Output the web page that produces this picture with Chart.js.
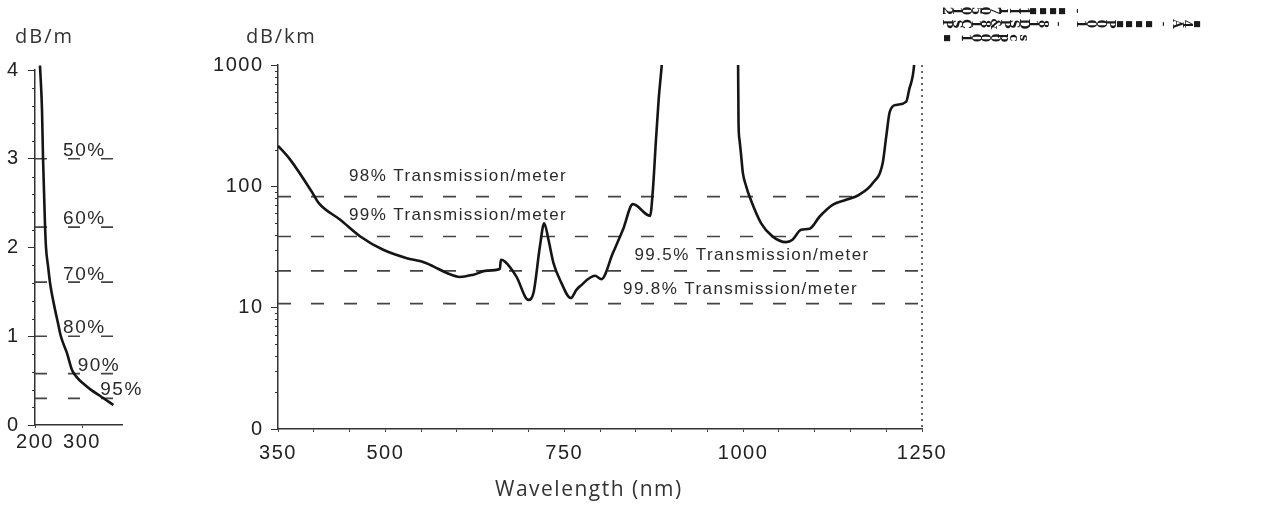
<!DOCTYPE html>
<html>
<head>
<meta charset="utf-8">
<script src="https://cdn.jsdelivr.net/npm/chart.js@4.4.1/dist/chart.umd.min.js"></script>
<style>
  html, body { margin: 0; padding: 0; background: #fff; }
  body { width: 1275px; height: 507px; position: relative; overflow: hidden; }
  canvas { position: absolute; top: 0; }
  #uvChart { left: 0; }
  #irChart { left: 160px; }
  .unit { position: absolute; font-family: "Open Sans", sans-serif; color: #333; line-height: 1; white-space: nowrap; }
  .glyph { position: absolute; font: bold 12px "DejaVu Serif", "Liberation Serif", serif; color: #1a1a1a; line-height: 1;
           transform: translate(-50%, -50%) rotate(90deg); }
  .glyph.box { font: 8px "DejaVu Sans", sans-serif; }
</style>
</head>
<body>
<canvas id="uvChart" width="160" height="507"></canvas>
<canvas id="irChart" width="1115" height="507"></canvas>
<div class="unit" style="left:15px; top:26px; font-size:20px; letter-spacing:2px;">dB/m</div>
<div class="unit" style="left:246px; top:26px; font-size:20px; letter-spacing:1.8px;">dB/km</div>
<div class="unit" style="left:495px; top:478px; font-size:21px; letter-spacing:1.5px;">Wavelength (nm)</div>
<div id="stamp"></div>
<script>
// short-wavelength panel, dB/m
const uvWavelengths = [210.6, 214.9, 217, 221.3, 223.4, 228, 232, 242.6, 249.6, 255, 268, 278.7, 288.7, 302, 320.6, 338, 366.6];
const uvLoss = [4.05, 3.55, 3.02, 2.25, 2.0, 1.78, 1.6, 1.3, 1.13, 1.0, 0.81, 0.62, 0.54, 0.47, 0.39, 0.33, 0.225];
const uvLevelNames = ['50%', '60%', '70%', '80%', '90%', '95%'];
const uvLevelValues = [3.0, 2.23, 1.61, 1.0, 0.58, 0.3];
const uvYTicks = [0, 1, 2, 3, 4];
const uvXTicks = [200, 300];

// main panel, dB/km
const wavelengths = [350, 367, 397, 407, 437, 465, 497, 530, 551, 567, 586, 604, 623, 642, 660, 661.5, 667, 683, 700, 707,
  716, 722, 728, 735, 746, 759, 767, 772, 793, 802, 818, 832, 846, 870, 874, 878, 882, 886, 889, 940,
  992.5, 993, 993.6, 995, 997.4, 999.7, 1004.4, 1009, 1025, 1041, 1060, 1069, 1081, 1093, 1107, 1125, 1144, 1162, 1181,
  1195, 1200, 1205, 1214, 1228, 1232, 1239, 1241];
const lossDbKm = [216, 166, 90.6, 72.7, 53, 38.6, 30, 25.6, 24.0, 21.9, 19.3, 17.9, 18.7, 20.2, 20.8, 24.8, 24, 18.1, 11.6, 13.2,
  31.9, 49.7, 36.3, 23.3, 16, 12.0, 14.0, 15.0, 18.3, 17.2, 28.2, 43.8, 71.3, 57.1, 95, 230, 520, 950, 1600, null,
  1600, 1000, 332, 241, 176, 128.5, 99.6, 82.4, 49.8, 38.7, 34.7, 36.3, 43.8, 44.7, 56.4, 70.4, 77.4, 85.1, 106,
  155, 257, 413, 469, 499, 624, 1000, 1600];
const levelNames = ['98% Transmission/meter', '99% Transmission/meter', '99.5% Transmission/meter', '99.8% Transmission/meter'];
const levelValues = [82.4, 38.6, 20.1, 10.8];
const yTickValues = [1, 10, 100, 1000];
const yTickLabels = ['0', '10', '100', '1000'];
const xTickLabels = [350, 500, 750, 1000, 1250];

// where each level caption sits (nm along x, px above its line)
const uvLabelAt = [305, 305, 305, 305, 336, 384];
const uvLabelLift = [7.5, 8.5, 7.5, 8.5, 8, 8.5];
const labelAt = [601.6, 601.6, 1012.5, 996.5];
const labelLift = [20, 21, 15.5, 14.5];

Chart.defaults.font.family = '"Liberation Sans", Arial, sans-serif';
Chart.defaults.color = '#222';

const spacing = {
  id: 'spacing',
  beforeLayout(chart, args, opts) { chart.ctx.letterSpacing = opts.px + 'px'; },
  beforeDraw(chart, args, opts) { chart.ctx.letterSpacing = opts.px + 'px'; }
};

const levelLabels = {
  id: 'levelLabels',
  afterDatasetsDraw(chart, args, opts) {
    const { ctx, scales: { x, y } } = chart;
    ctx.save();
    ctx.font = opts.font;
    ctx.fillStyle = '#2a2a2a';
    ctx.letterSpacing = opts.spacing;
    ctx.textAlign = 'center';
    ctx.textBaseline = 'middle';
    opts.names.forEach((t, i) => {
      ctx.fillText(t, x.getPixelForValue(opts.at[i]), y.getPixelForValue(opts.values[i]) - opts.lift[i]);
    });
    ctx.restore();
  }
};

// small marks between the major y ticks, plus the dotted right edge
const minorMarks = {
  id: 'minorMarks',
  afterDraw(chart, args, opts) {
    const { ctx, chartArea } = chart;
    const y = chart.scales.y;
    ctx.save();
    ctx.strokeStyle = '#333';
    ctx.lineWidth = 1;
    opts.values.forEach(v => {
      const py = Math.round(y.getPixelForValue(v)) + 0.5;
      ctx.beginPath();
      ctx.moveTo(chartArea.left - 3, py);
      ctx.lineTo(chartArea.left, py);
      ctx.stroke();
    });
    if (opts.rightEdge) {
      ctx.setLineDash([2, 4]);
      ctx.lineWidth = 1.5;
      ctx.beginPath();
      ctx.moveTo(chartArea.right, chartArea.top);
      ctx.lineTo(chartArea.right, chartArea.bottom);
      ctx.stroke();
    }
    ctx.restore();
  }
};

function levelSet(values, x0, x1, dash) {
  return values.map(v => ({
    data: [{ x: x0, y: v }, { x: x1, y: v }],
    borderColor: '#444', borderWidth: 1.7, borderDash: dash,
    pointRadius: 0, tension: 0
  }));
}

function dottedBorder() {
  return { dash: [2, 4], color: '#333', width: 1.5 };
}

// left panel
const uvMinor = [];
for (let k = 0; k < 4; k++) [0.2, 0.4, 0.6, 0.8].forEach(f => uvMinor.push(k + f));

new Chart(document.getElementById('uvChart'), {
  type: 'line',
  data: {
    datasets: [
      {
        data: uvWavelengths.map((w, i) => ({ x: w, y: uvLoss[i] })),
        borderColor: '#151515', borderWidth: 2.6, pointRadius: 0,
        cubicInterpolationMode: 'monotone', clip: false
      },
      ...levelSet(uvLevelValues, 200, 370, [12, 21])
    ]
  },
  options: {
    responsive: false, animation: false, events: [],
    layout: { padding: { left: 0, top: 70, right: 38, bottom: 0 } },
    plugins: {
      legend: { display: false }, tooltip: { enabled: false },
      spacing: { px: 1.5 },
      levelLabels: { names: uvLevelNames, values: uvLevelValues, at: uvLabelAt, lift: uvLabelLift,
                     font: '19px "Liberation Sans", Arial, sans-serif', spacing: '1.5px' },
      minorMarks: { values: uvMinor, rightEdge: false }
    },
    scales: {
      x: {
        type: 'linear', min: 200, max: 385,
        afterFit(s) { s.height = 82; },
        afterBuildTicks(s) { s.ticks = uvXTicks.map(v => ({ value: v })); },
        grid: { drawOnChartArea: false, tickLength: 3, color: '#444' },
        border: dottedBorder(),
        ticks: { autoSkip: false, maxRotation: 0, padding: 2, font: { size: 20 } }
      },
      y: {
        type: 'linear', min: 0, max: 4,
        afterFit(s) { s.width = 35; },
        afterBuildTicks(s) { s.ticks = uvYTicks.map(v => ({ value: v })); },
        grid: { drawOnChartArea: false, tickLength: 7, color: '#333' },
        border: dottedBorder(),
        ticks: { padding: 8.5, font: { size: 20 } }
      }
    }
  },
  plugins: [spacing, levelLabels, minorMarks]
});

// main panel
const logMinor = [];
[1, 10, 100].forEach(d => [2, 3, 4, 5, 6, 7, 8, 9].forEach(m => logMinor.push(m * d)));

new Chart(document.getElementById('irChart'), {
  type: 'line',
  data: {
    datasets: [
      {
        data: wavelengths.map((w, i) => ({ x: w, y: lossDbKm[i] })),
        borderColor: '#151515', borderWidth: 2.6, pointRadius: 0,
        cubicInterpolationMode: 'monotone', spanGaps: false
      },
      ...levelSet(levelValues, 350, 1250, [13, 20])
    ]
  },
  options: {
    responsive: false, animation: false, events: [],
    layout: { padding: { left: 0, top: 65, right: 353, bottom: 0 } },
    plugins: {
      legend: { display: false }, tooltip: { enabled: false },
      spacing: { px: 1.5 },
      levelLabels: { names: levelNames, values: levelValues, at: labelAt, lift: labelLift,
                     font: '17px "Liberation Sans", Arial, sans-serif', spacing: '1.4px' },
      minorMarks: { values: logMinor, rightEdge: true }
    },
    scales: {
      x: {
        type: 'linear', min: 350, max: 1250,
        afterFit(s) { s.height = 78; },
        grid: { drawOnChartArea: false, tickLength: 3, color: '#444' },
        border: dottedBorder(),
        ticks: {
          stepSize: 50, autoSkip: false, maxRotation: 0, includeBounds: false, padding: 9,
          font: { size: 20 },
          callback: v => xTickLabels.includes(v) ? String(v) : ''
        }
      },
      y: {
        type: 'logarithmic', min: 1, max: 1000,
        afterFit(s) { s.width = 118; },
        afterBuildTicks(s) { s.ticks = yTickValues.map(v => ({ value: v })); },
        grid: { drawOnChartArea: false, tickLength: 7, color: '#333' },
        border: dottedBorder(),
        ticks: {
          padding: 7.5, font: { size: 20 },
          callback: v => yTickLabels[yTickValues.indexOf(v)]
        }
      }
    }
  },
  plugins: [spacing, levelLabels, minorMarks]
});

// sideways stamp in the top right corner
const stampRows = ['210507ıI1■■■■¯', 'PSC18&PSD18¯  100P■■■■¯ A4■', '■¯1000pcs'];
const stampRowY = [11, 24, 38];
const stamp = document.getElementById('stamp');
stampRows.forEach((row, r) => {
  [...row].forEach((ch, i) => {
    if (ch === ' ') return;
    const s = document.createElement('span');
    s.className = ch === '■' ? 'glyph box' : 'glyph';
    s.textContent = ch;
    s.style.left = (947 + i * 9.6) + 'px';
    s.style.top = stampRowY[r] + 'px';
    stamp.appendChild(s);
  });
});
</script>
</body>
</html>
